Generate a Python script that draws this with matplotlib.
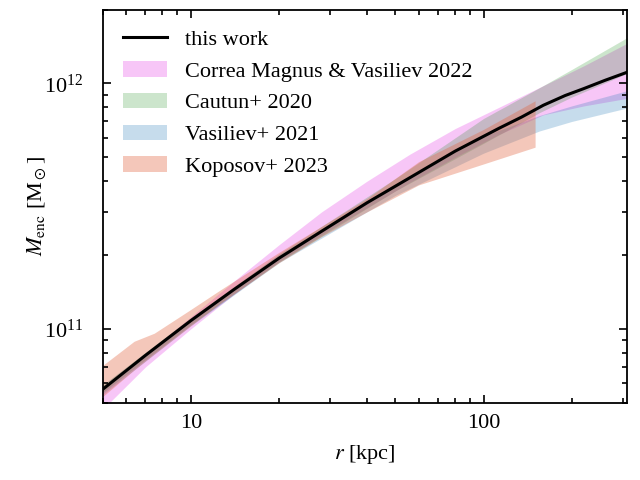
import numpy as np
import matplotlib
matplotlib.use('Agg')
import matplotlib.pyplot as plt
from matplotlib.ticker import NullFormatter

plt.rcParams['font.family'] = ['Liberation Serif', 'DejaVu Serif']
plt.rcParams['mathtext.fontset'] = 'stix'
plt.rcParams['font.size'] = 16

# this work
r_fit = [5, 7, 10, 14, 20, 28, 40, 56, 80, 113, 135, 160, 190, 220, 260, 310]
m_fit = [5.67e10, 7.8e10, 1.08e11, 1.443e11, 1.94e11, 2.5e11, 3.265e11, 4.13e11,
         5.3e11, 6.57e11, 7.3e11, 8.15e11, 8.93e11, 9.53e11, 1.03e12, 1.112e12]

# Correa Magnus & Vasiliev 2022
r_cm = [5, 7, 10, 14, 20, 28, 40, 56, 80, 113, 160, 220, 310]
lo_cm = [4.7e10, 7.0e10, 1.0e11, 1.38e11, 1.88e11, 2.42e11, 3.12e11, 3.95e11, 5.0e11,
         6.2e11, 7.45e11, 8.1e11, 8.7e11]
hi_cm = [5.6e10, 7.9e10, 1.12e11, 1.56e11, 2.2e11, 3.0e11, 4.0e11, 5.15e11, 6.55e11,
         8.0e11, 9.8e11, 1.18e12, 1.46e12]

# Cautun+ 2020
r_ca = [5, 10, 20, 50, 100, 155, 200, 310]
lo_ca = [5.5e10, 1.04e11, 1.87e11, 3.65e11, 5.7e11, 7.6e11, 8.8e11, 1.1e12]
hi_ca = [5.9e10, 1.11e11, 2.02e11, 4.1e11, 7.2e11, 9.6e11, 1.14e12, 1.54e12]

# Vasiliev+ 2021
r_va = [5, 10, 20, 50, 100, 155, 200, 310]
lo_va = [5.4e10, 1.03e11, 1.86e11, 3.5e11, 5.2e11, 6.4e11, 7.0e11, 7.95e11]
hi_va = [5.9e10, 1.11e11, 2.0e11, 3.9e11, 6.1e11, 7.4e11, 8.1e11, 9.35e11]

# Koposov+ 2023
r_ko = [5, 6.4, 7.5, 10, 12.6, 20, 28, 40, 60, 100, 150]
lo_ko = [5.3e10, 6.8e10, 7.9e10, 1.03e11, 1.27e11, 1.86e11, 2.38e11, 3.0e11, 3.86e11,
         4.7e11, 5.5e11]
hi_ko = [7.1e10, 8.9e10, 9.6e10, 1.2e11, 1.44e11, 2.05e11, 2.62e11, 3.4e11, 4.8e11,
         6.5e11, 8.5e11]

fig = plt.figure(figsize=(6.4, 4.8), dpi=100)
ax = fig.add_axes([0.1605, 0.161, 0.8185, 0.819])

ax.plot(r_fit, m_fit, color='k', lw=2.2, label='this work', zorder=10)
ax.fill_between(r_cm, lo_cm, hi_cm, color='violet', alpha=0.45, lw=0,
                label='Correa Magnus & Vasiliev 2022')
ax.fill_between(r_ca, lo_ca, hi_ca, color='green', alpha=0.2, lw=0,
                label='Cautun+ 2020')
ax.fill_between(r_va, lo_va, hi_va, color='C0', alpha=0.25, lw=0,
                label='Vasiliev+ 2021')
ax.fill_between(r_ko, lo_ko, hi_ko, color='#e0603a', alpha=0.35, lw=0,
                label='Koposov+ 2023')

ax.set_xscale('log')
ax.set_yscale('log')
ax.set_xlim(5, 308)
ax.set_ylim(5e10, 2e12)
ax.set_xticks([10, 100])
ax.set_xticklabels(['10', '100'])
ax.xaxis.set_minor_formatter(NullFormatter())
ax.yaxis.set_minor_formatter(NullFormatter())

ax.tick_params(which='both', direction='in', top=True, right=True, width=1.2)
ax.tick_params(which='major', length=6)
ax.tick_params(axis='x', which='major', pad=8)
ax.tick_params(axis='y', which='major', pad=14)
ax.tick_params(which='minor', length=3.5)
for s in ax.spines.values():
    s.set_linewidth(1.3)

ax.set_xlabel(r'$r$ [kpc]', labelpad=7)
ax.set_ylabel(r'$M_{\rm enc}$ [M$_\odot$]')
ax.yaxis.set_label_coords(-0.104, 0.5)

ax.legend(loc='upper left', frameon=False)

fig.savefig('out.png', dpi=100)
